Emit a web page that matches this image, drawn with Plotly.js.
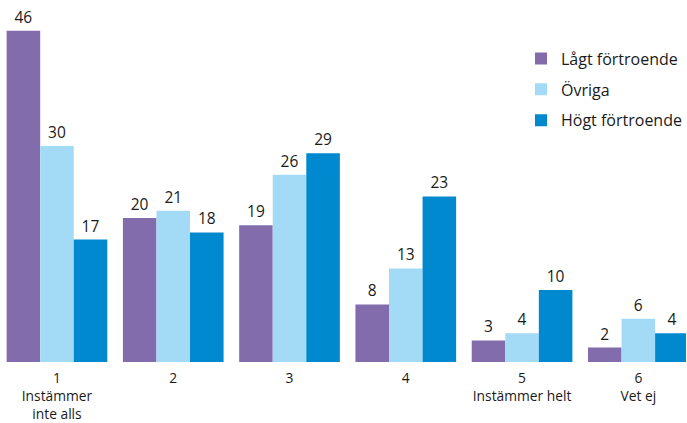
<!DOCTYPE html>
<html>
<head>
<meta charset="utf-8">
<script src="https://cdn.plot.ly/plotly-3.0.1.min.js"></script>
<style>html,body{margin:0;padding:0;background:#fff;}#chart{width:687px;height:423px;}</style>
</head>
<body>
<div id="chart"></div>
<script>
const categories = ["1<br>Instämmer<br>inte alls", "2", "3", "4", "5<br>Instämmer helt", "6<br>Vet ej"];
const seriesNames = ["Lågt förtroende", "Övriga", "Högt förtroende"];
const lagt = [46, 20, 19, 8, 3, 2];
const ovriga = [30, 21, 26, 13, 4, 6];
const hogt = [17, 18, 29, 23, 10, 4];
const colors = ["#836CAB", "#A3DAF6", "#0089CF"];

const values = [lagt, ovriga, hogt];
const font = "Open Sans, Noto Sans, sans-serif";
const traces = values.map((v, i) => ({
  type: "bar",
  name: seriesNames[i],
  x: categories,
  y: v,
  text: v.map(String),
  textposition: "outside",
  cliponaxis: false,
  textfont: {size: 15.5, color: "#1a1a1a", family: font},
  marker: {color: colors[i]},
  legendgroup: "g" + i,
  hoverinfo: "skip"
}));

const layout = {
  width: 687, height: 423,
  margin: {l: 0, r: 0, t: 0, b: 61},
  paper_bgcolor: "#fff", plot_bgcolor: "#fff",
  barmode: "group",
  bargap: 0.134, bargroupgap: 0,
  font: {family: font, color: "#1a1a1a"},
  xaxis: {
    type: "category",
    range: [-0.49, 5.41],
    showgrid: false, zeroline: false, showline: false,
    ticks: "", ticklabelstandoff: 6,
    tickfont: {size: 13.8, color: "#1a1a1a", family: font},
    fixedrange: true
  },
  yaxis: {
    range: [0, 50.28],
    visible: false,
    fixedrange: true
  },
  showlegend: true,
  legend: {
    x: 0.759, xanchor: "left",
    y: 0.885, yanchor: "top",
    traceorder: "grouped",
    tracegroupgap: 7,
    font: {size: 16, color: "#1a1a1a", family: font},
    bgcolor: "rgba(0,0,0,0)"
  }
};

Plotly.newPlot("chart", traces, layout, {displayModeBar: false, staticPlot: true});
</script>
</body>
</html>
